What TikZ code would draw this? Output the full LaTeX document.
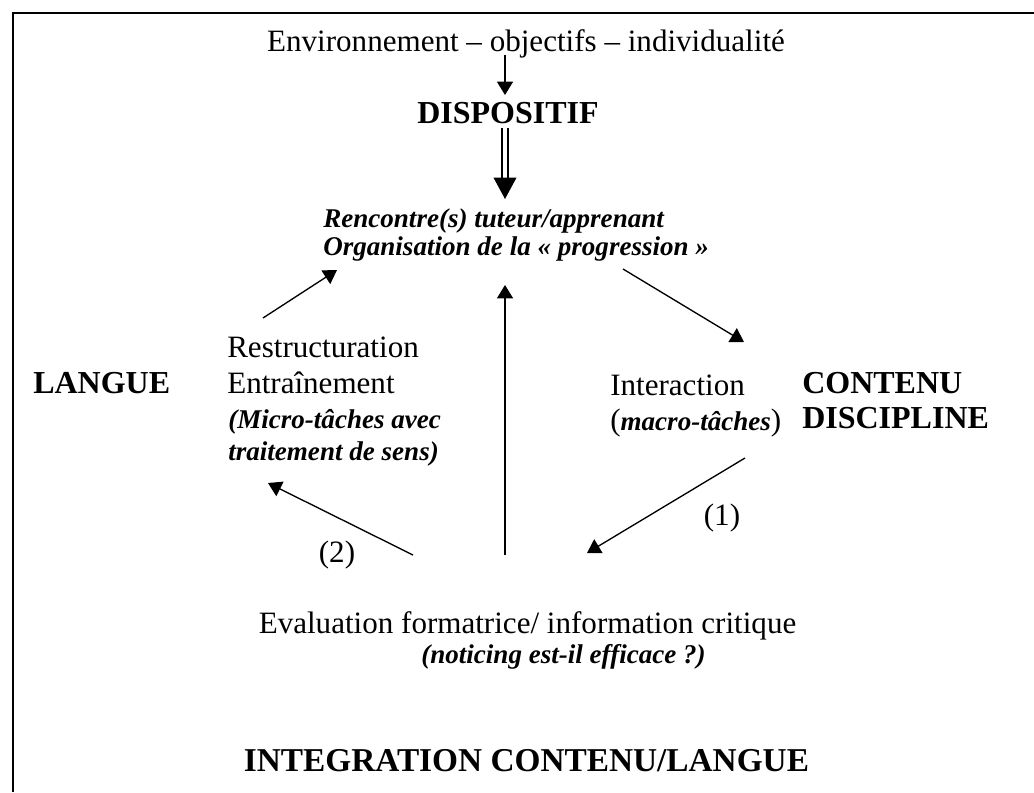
\documentclass[tikz,border=0pt]{standalone}
\usepackage{fontspec}
\setmainfont{Liberation Serif}
\usetikzlibrary{arrows.meta}

\tikzset{
  txt/.style={inner sep=0pt, font=\fontsize{23.3}{27}\selectfont},
  caps/.style={inner sep=0pt, font=\fontsize{24}{26}\selectfont\bfseries},
  bitxt/.style={inner sep=0pt, font=\fontsize{20.3}{23}\selectfont\bfseries\itshape},
  arr/.style={line width=1pt, -{Triangle[length=10pt,width=12pt]}},
  dblarr/.style={double, double distance=3.5pt, line width=1pt, -{Triangle[length=16pt,width=17pt]}},
}
\newcommand{\bi}[1]{\textbf{\textit{\fontsize{20.3}{23}\selectfont #1}}}

\begin{document}
\begin{tikzpicture}[x=0.75pt,y=-0.75pt]
    \useasboundingbox (0,0) rectangle (1034,792);
    % cadre
    \draw[line width=1.6pt] (13.3,792) -- (13.3,13.3) -- (1034,13.3);

    % textes (ancre base = derniere ligne)
    \node[txt,anchor=base] (env) at (526,52) {Environnement – objectifs – individualité};
    \node[caps,anchor=base] (disp) at (508,123) {DISPOSITIF};
    \node[bitxt,anchor=base west,align=left,font=\fontsize{20.3}{21}\selectfont\bfseries\itshape] (renc) at (323,255)
        {Rencontre(s) tuteur/apprenant\\Organisation de la «~progression~»};
    \node[caps,anchor=base west] (langue) at (33,393) {LANGUE};
    \node[txt,anchor=base west,align=left] (restr) at (227,393) {Restructuration\\Entraînement};
    \node[bitxt,anchor=base west,align=left,font=\fontsize{20.3}{24}\selectfont\bfseries\itshape] (micro) at (228,460)
        {(Micro-tâches avec\\traitement de sens)};
    \node[txt,anchor=base west,align=left,font=\fontsize{23.3}{26}\selectfont] (inter) at (610,430)
        {Interaction\\(\bi{macro-tâches})};
    \node[caps,anchor=base west,align=left] (contenu) at (802,428) {CONTENU\\DISCIPLINE};
    \node[txt] (lab1) at (722,518) {(1)};
    \node[txt] (lab2) at (337,555) {(2)};
    \node[txt,anchor=base] (eval) at (527.5,633) {Evaluation formatrice/ information critique};
    \node[bitxt,anchor=base west] (notic) at (421,663) {(noticing est-il efficace ?)};
    \node[caps,anchor=base,font=\fontsize{25}{27}\selectfont\bfseries] (integ) at (526.5,771) {INTEGRATION CONTENU/LANGUE};

    % extremites des fleches
    \coordinate (envout) at (505,55);
    \coordinate (dispin) at (505,95);
    \coordinate (dispout) at (505,128);
    \coordinate (rencin) at (505,199);
    \coordinate (restrout) at (263,318);
    \coordinate (rencleft) at (337,270);
    \coordinate (evalup) at (505,555);
    \coordinate (rencmid) at (505,285);
    \coordinate (rencright) at (623,269);
    \coordinate (interin) at (744,342);
    \coordinate (interout) at (745,458);
    \coordinate (evalright) at (587,553);
    \coordinate (evalleft) at (413,555);
    \coordinate (microin) at (268,483);

    % fleches
    \draw[arr] (envout) -- (dispin);
    \draw[dblarr] (dispout) -- (rencin);
    \draw[arr] (restrout) -- (rencleft);
    \draw[arr] (evalup) -- (rencmid);
    \draw[arr] (rencright) -- (interin);
    \draw[arr] (interout) -- (evalright);
    \draw[arr] (evalleft) -- (microin);
\end{tikzpicture}
\end{document}
